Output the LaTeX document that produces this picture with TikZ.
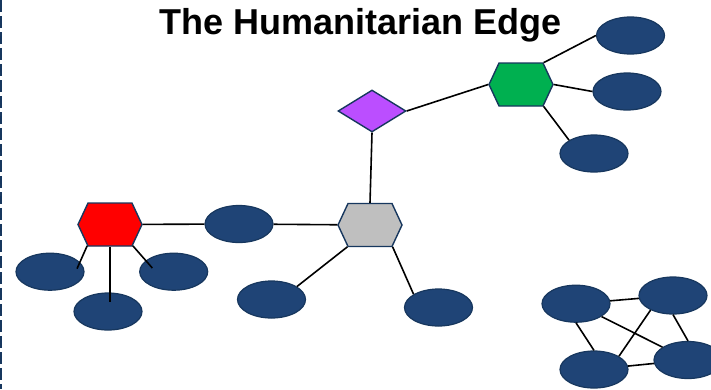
\documentclass[tikz,border=0pt]{standalone}
\usepackage{fontspec}
\newfontfamily\titlefont{Liberation Sans}
\usetikzlibrary{shapes, arrows, calc, positioning}

\definecolor{leafblue}{RGB}{31,68,118}
\definecolor{rimblue}{RGB}{23,55,94}
\definecolor{hubred}{RGB}{255,0,0}
\definecolor{hubgreen}{RGB}{0,176,80}
\definecolor{hubgray}{RGB}{191,191,191}
\definecolor{hubviolet}{RGB}{187,78,255}

\begin{document}
\begin{tikzpicture}[x=1pt, y=-1pt, line width=1.6pt]
	\tikzstyle{leaf} = [draw=rimblue, line width=1.2pt, fill=leafblue, ellipse, minimum width=68pt, minimum height=37pt, inner sep=0pt]
	\tikzstyle{hub} = [draw=rimblue, line width=1.4pt, signal, signal to=east and west, signal pointer angle=130, minimum width=64pt, minimum height=43pt, inner sep=0pt]
	\tikzstyle{link} = [draw, black, line width=1.6pt]

	\useasboundingbox (0,0) rectangle (711,389);
	\draw[rimblue, line width=1.5pt, dash pattern=on 12pt off 4pt] (0.75,0) -- (0.75,389);

	\node[anchor=base] (title) at (360.5,34.3) {\titlefont\bfseries\fontsize{36}{40}\selectfont The Humanitarian Edge};

	% hubs
	\path
		node[diamond, draw=rimblue, line width=1.4pt, fill=hubviolet, minimum width=68pt, minimum height=42pt, inner sep=0pt] (d) at (372,111) {}
		node[hub, fill=hubgreen] (g) at (521,84.5) {}
		node[hub, fill=hubgray] (gy) at (370,225) {}
		node[hub, fill=hubred] (r) at (110,224.5) {}
	;

	% leaves
	\path
		node[leaf] (e1) at (630.5,35.5) {}
		node[leaf] (e2) at (627,91.5) {}
		node[leaf] (e3) at (594,153.5) {}
		node[leaf] (emid) at (239,224) {}
		node[leaf] (ll) at (271.5,299.5) {}
		node[leaf] (lr) at (438.5,307.5) {}
		node[leaf] (l) at (50,271.7) {}
		node[leaf] (rr) at (173.7,271.7) {}
		node[leaf] (b) at (108,311.5) {}
	;

	% loose cluster
	\path
		node[leaf] (c1) at (576,303.7) {}
		node[leaf] (c2) at (673,295.5) {}
		node[leaf] (c3) at (594,369.5) {}
		node[leaf] (c4) at (688,360) {}
	;

	\coordinate (pl) at ($(l)+(27,-3)$);
	\coordinate (pr) at ($(rr)+(-21.4,-3.7)$);
	\coordinate (pb) at ($(b)+(2,-9.8)$);

	\path[link]
		(d.east) edge (g.west)
		(d.south) edge (gy.north)
		(g.44) edge (e1.west)
		(g.east) edge (e2.west)
		(g.-44) edge (e3.152)
		(gy) edge (emid)
		(gy.224) edge (ll.27)
		(gy.-44) edge (lr.152)
		(r) edge (emid)
		(r.223) edge (pl)
		(r.-43) edge (pr)
		(r.south) edge (pb)

		(c1) edge (c2)
		(c1.south) edge (c3.north)
		(c1) edge (c4)
		(c2.213) edge (c3.28)
		(c2.south) edge (c4.north)
		(c3) edge (c4)
	;
\end{tikzpicture}
\end{document}
